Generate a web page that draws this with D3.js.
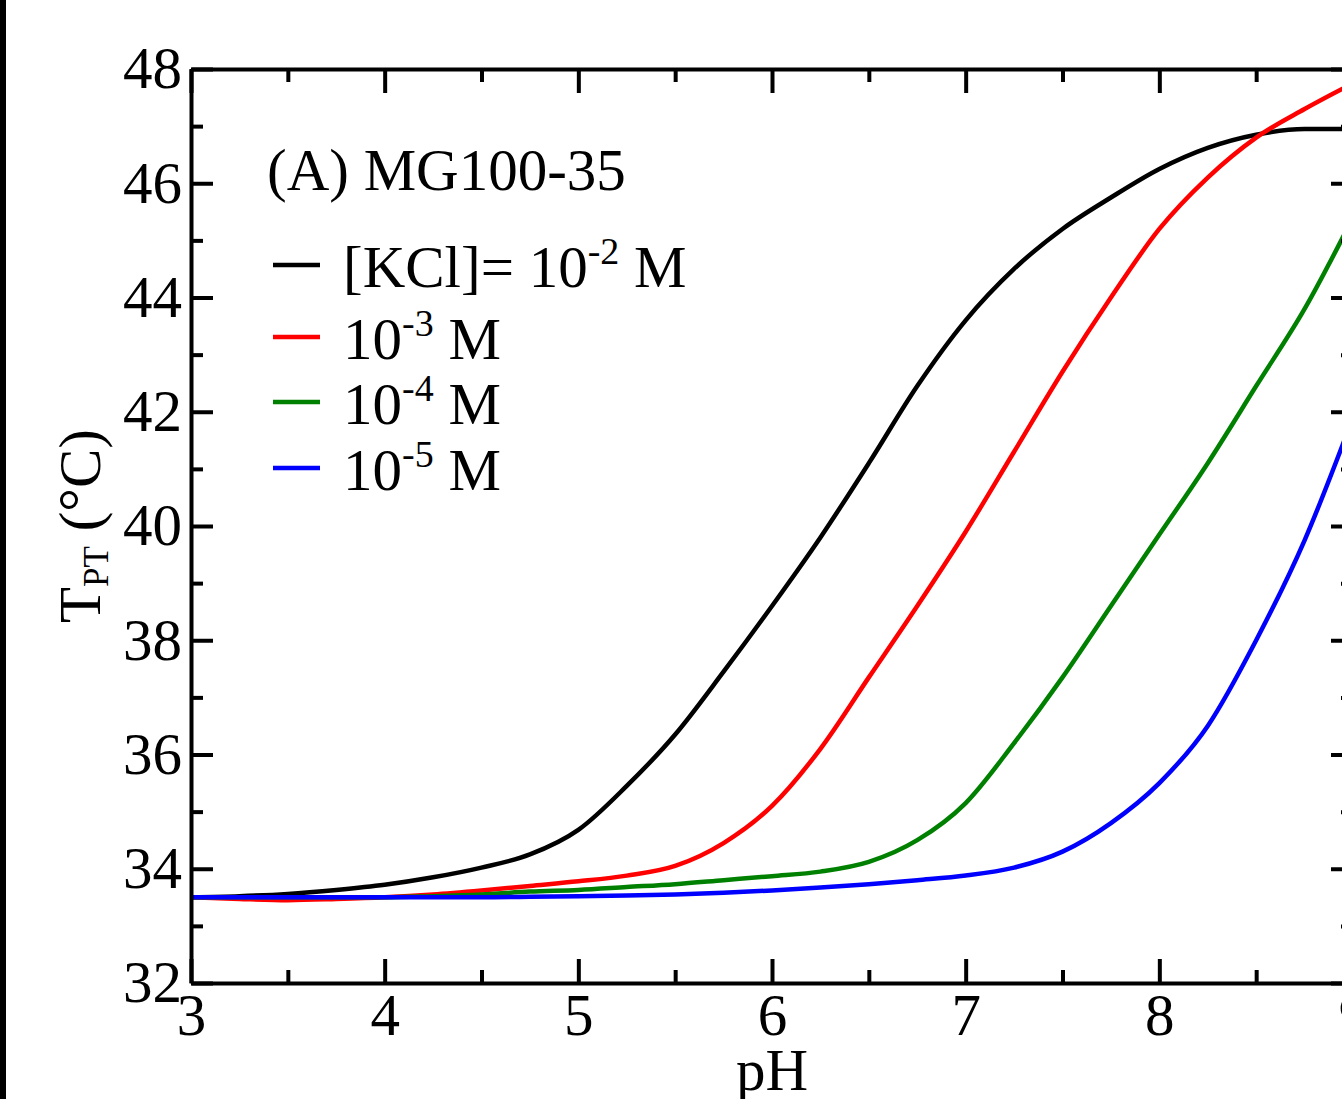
<!DOCTYPE html>
<meta charset="utf-8">
<style type="text/css">
    body { margin: 0; background: #fff; }
    svg text { font-family: "Liberation Serif", "Times New Roman", serif; fill: #000; }
    .axis path, .axis line { stroke: #000; stroke-width: 4; }
    .line { fill: none; stroke-width: 4.5; stroke-linejoin: round; }
</style>
<body>
</body>
<script type="text/javascript" src="https://d3js.org/d3.v7.min.js"></script>
<script>
    // data (pH vs T_PT in degC)
    var pH = [3, 3.25, 3.5, 3.75, 4, 4.25, 4.5, 4.75, 5, 5.25, 5.5, 5.75, 6,
              6.25, 6.5, 6.75, 7, 7.25, 7.5, 7.75, 8, 8.25, 8.5, 8.75, 9];
    var kcl1e2 = [33.5, 33.52, 33.56, 33.63, 33.72, 33.85, 34.02, 34.25, 34.68, 35.45, 36.35, 37.45, 38.6,
                  39.8, 41.1, 42.45, 43.6, 44.5, 45.2, 45.75, 46.25, 46.62, 46.85, 46.95, 46.95];
    var kcl1e3 = [33.5, 33.47, 33.45, 33.47, 33.5, 33.55, 33.62, 33.7, 33.78, 33.88, 34.05, 34.45, 35.1,
                  36.1, 37.35, 38.6, 39.9, 41.3, 42.7, 44.0, 45.2, 46.1, 46.8, 47.3, 47.75];
    var kcl1e4 = [33.5, 33.5, 33.5, 33.5, 33.5, 33.52, 33.55, 33.6, 33.63, 33.68, 33.73, 33.8, 33.87,
                  33.95, 34.12, 34.5, 35.15, 36.2, 37.35, 38.6, 39.85, 41.1, 42.45, 43.8, 45.4];
    var kcl1e5 = [33.5, 33.5, 33.5, 33.5, 33.5, 33.5, 33.5, 33.51, 33.52, 33.53, 33.55, 33.58, 33.62,
                  33.67, 33.73, 33.8, 33.88, 34.02, 34.3, 34.8, 35.5, 36.5, 38.0, 39.75, 41.9];

    var seriesColors = ["#000000", "#ff0000", "#008000", "#0000ff"];
    var legendBase = ["[KCl]= 10", "10", "10", "10"];
    var legendExp = ["-2", "-3", "-4", "-5"];

    var xMajor = [3, 4, 5, 6, 7, 8, 9];
    var xMinor = [3.5, 4.5, 5.5, 6.5, 7.5, 8.5];
    var yMajor = [32, 34, 36, 38, 40, 42, 44, 46, 48];
    var yMinor = [33, 35, 37, 39, 41, 43, 45, 47];

    var series = [kcl1e2, kcl1e3, kcl1e4, kcl1e5];

    var W = 1342, H = 1099;
    var plot = { left: 191, right: 1353, top: 69, bottom: 983 };

    var svg = d3.select("body").append("svg")
        .attr("width", W)
        .attr("height", H);

    // black strip at the left edge of the screenshot
    svg.append("rect").attr("x", 0).attr("y", 0).attr("width", 6).attr("height", H).attr("fill", "#000");

    var xScale = d3.scaleLinear().domain([3, 9]).range([plot.left, plot.right]);
    var yScale = d3.scaleLinear().domain([32, 48]).range([plot.bottom, plot.top]);

    var line = d3.line()
        .x(function (d) { return xScale(d[0]); })
        .y(function (d) { return yScale(d[1]); })
        .curve(d3.curveMonotoneX);

    // curves
    series.forEach(function (vals, i) {
        svg.append("path")
            .datum(pH.map(function (p, j) { return [p, vals[j]]; }))
            .attr("class", "line")
            .attr("stroke", seriesColors[i])
            .attr("d", line);
    });

    // axes: ticks point inwards
    var fontSize = 59;

    svg.append("g")
        .attr("class", "axis")
        .attr("transform", "translate(0," + plot.bottom + ")")
        .call(d3.axisBottom(xScale).tickValues(xMajor).tickSizeInner(-24).tickSizeOuter(0).tickPadding(10).tickFormat(d3.format("d")))
        .call(function (g) { g.selectAll("text").attr("font-size", fontSize).attr("font-family", null); });
    svg.append("g")
        .attr("class", "axis")
        .attr("transform", "translate(0," + plot.bottom + ")")
        .call(d3.axisBottom(xScale).tickValues(xMinor).tickSize(-13).tickFormat(""))
        .call(function (g) { g.select(".domain").remove(); });

    svg.append("g")
        .attr("class", "axis")
        .attr("transform", "translate(0," + plot.top + ")")
        .call(d3.axisTop(xScale).tickValues(xMajor).tickSizeInner(-24).tickSizeOuter(0).tickFormat(""));
    svg.append("g")
        .attr("class", "axis")
        .attr("transform", "translate(0," + plot.top + ")")
        .call(d3.axisTop(xScale).tickValues(xMinor).tickSize(-13).tickFormat(""))
        .call(function (g) { g.select(".domain").remove(); });

    svg.append("g")
        .attr("class", "axis")
        .attr("transform", "translate(" + plot.left + ",0)")
        .call(d3.axisLeft(yScale).tickValues(yMajor).tickSizeInner(-22).tickSizeOuter(0).tickPadding(9).tickFormat(d3.format("d")))
        .call(function (g) { g.selectAll("text").attr("font-size", fontSize).attr("font-family", null); });
    svg.append("g")
        .attr("class", "axis")
        .attr("transform", "translate(" + plot.left + ",0)")
        .call(d3.axisLeft(yScale).tickValues(yMinor).tickSize(-12).tickFormat(""))
        .call(function (g) { g.select(".domain").remove(); });

    svg.append("g")
        .attr("class", "axis")
        .attr("transform", "translate(" + plot.right + ",0)")
        .call(d3.axisRight(yScale).tickValues(yMajor).tickSizeInner(-22).tickSizeOuter(0).tickFormat(""));
    svg.append("g")
        .attr("class", "axis")
        .attr("transform", "translate(" + plot.right + ",0)")
        .call(d3.axisRight(yScale).tickValues(yMinor).tickSize(-12).tickFormat(""))
        .call(function (g) { g.select(".domain").remove(); });

    // axis titles
    svg.append("text")
        .attr("x", (plot.left + plot.right) / 2)
        .attr("y", 1090)
        .attr("text-anchor", "middle")
        .attr("font-size", fontSize)
        .text("pH");

    var ylab = svg.append("text")
        .attr("transform", "translate(100," + ((plot.top + plot.bottom) / 2) + ") rotate(-90)")
        .attr("text-anchor", "middle")
        .attr("font-size", fontSize);
    ylab.append("tspan").text("T");
    ylab.append("tspan").attr("font-size", 35).attr("dy", 8).text("PT");
    ylab.append("tspan").attr("dy", -8).text(" (\u00b0C)");

    // panel title + legend
    svg.append("text")
        .attr("x", 267)
        .attr("y", 190)
        .attr("font-size", fontSize)
        .text("(A) MG100-35");

    var legendY = [265, 337, 402, 468];
    seriesColors.forEach(function (c, i) {
        svg.append("line")
            .attr("x1", 273).attr("x2", 320)
            .attr("y1", legendY[i]).attr("y2", legendY[i])
            .attr("stroke", c).attr("stroke-width", 4.5);
        var t = svg.append("text")
            .attr("x", 343)
            .attr("y", legendY[i] + 22)
            .attr("font-size", fontSize);
        t.append("tspan").text(legendBase[i]);
        t.append("tspan").attr("font-size", 38).attr("dy", -23).text(legendExp[i]);
        t.append("tspan").attr("dy", 23).text(" M");
    });
</script>
